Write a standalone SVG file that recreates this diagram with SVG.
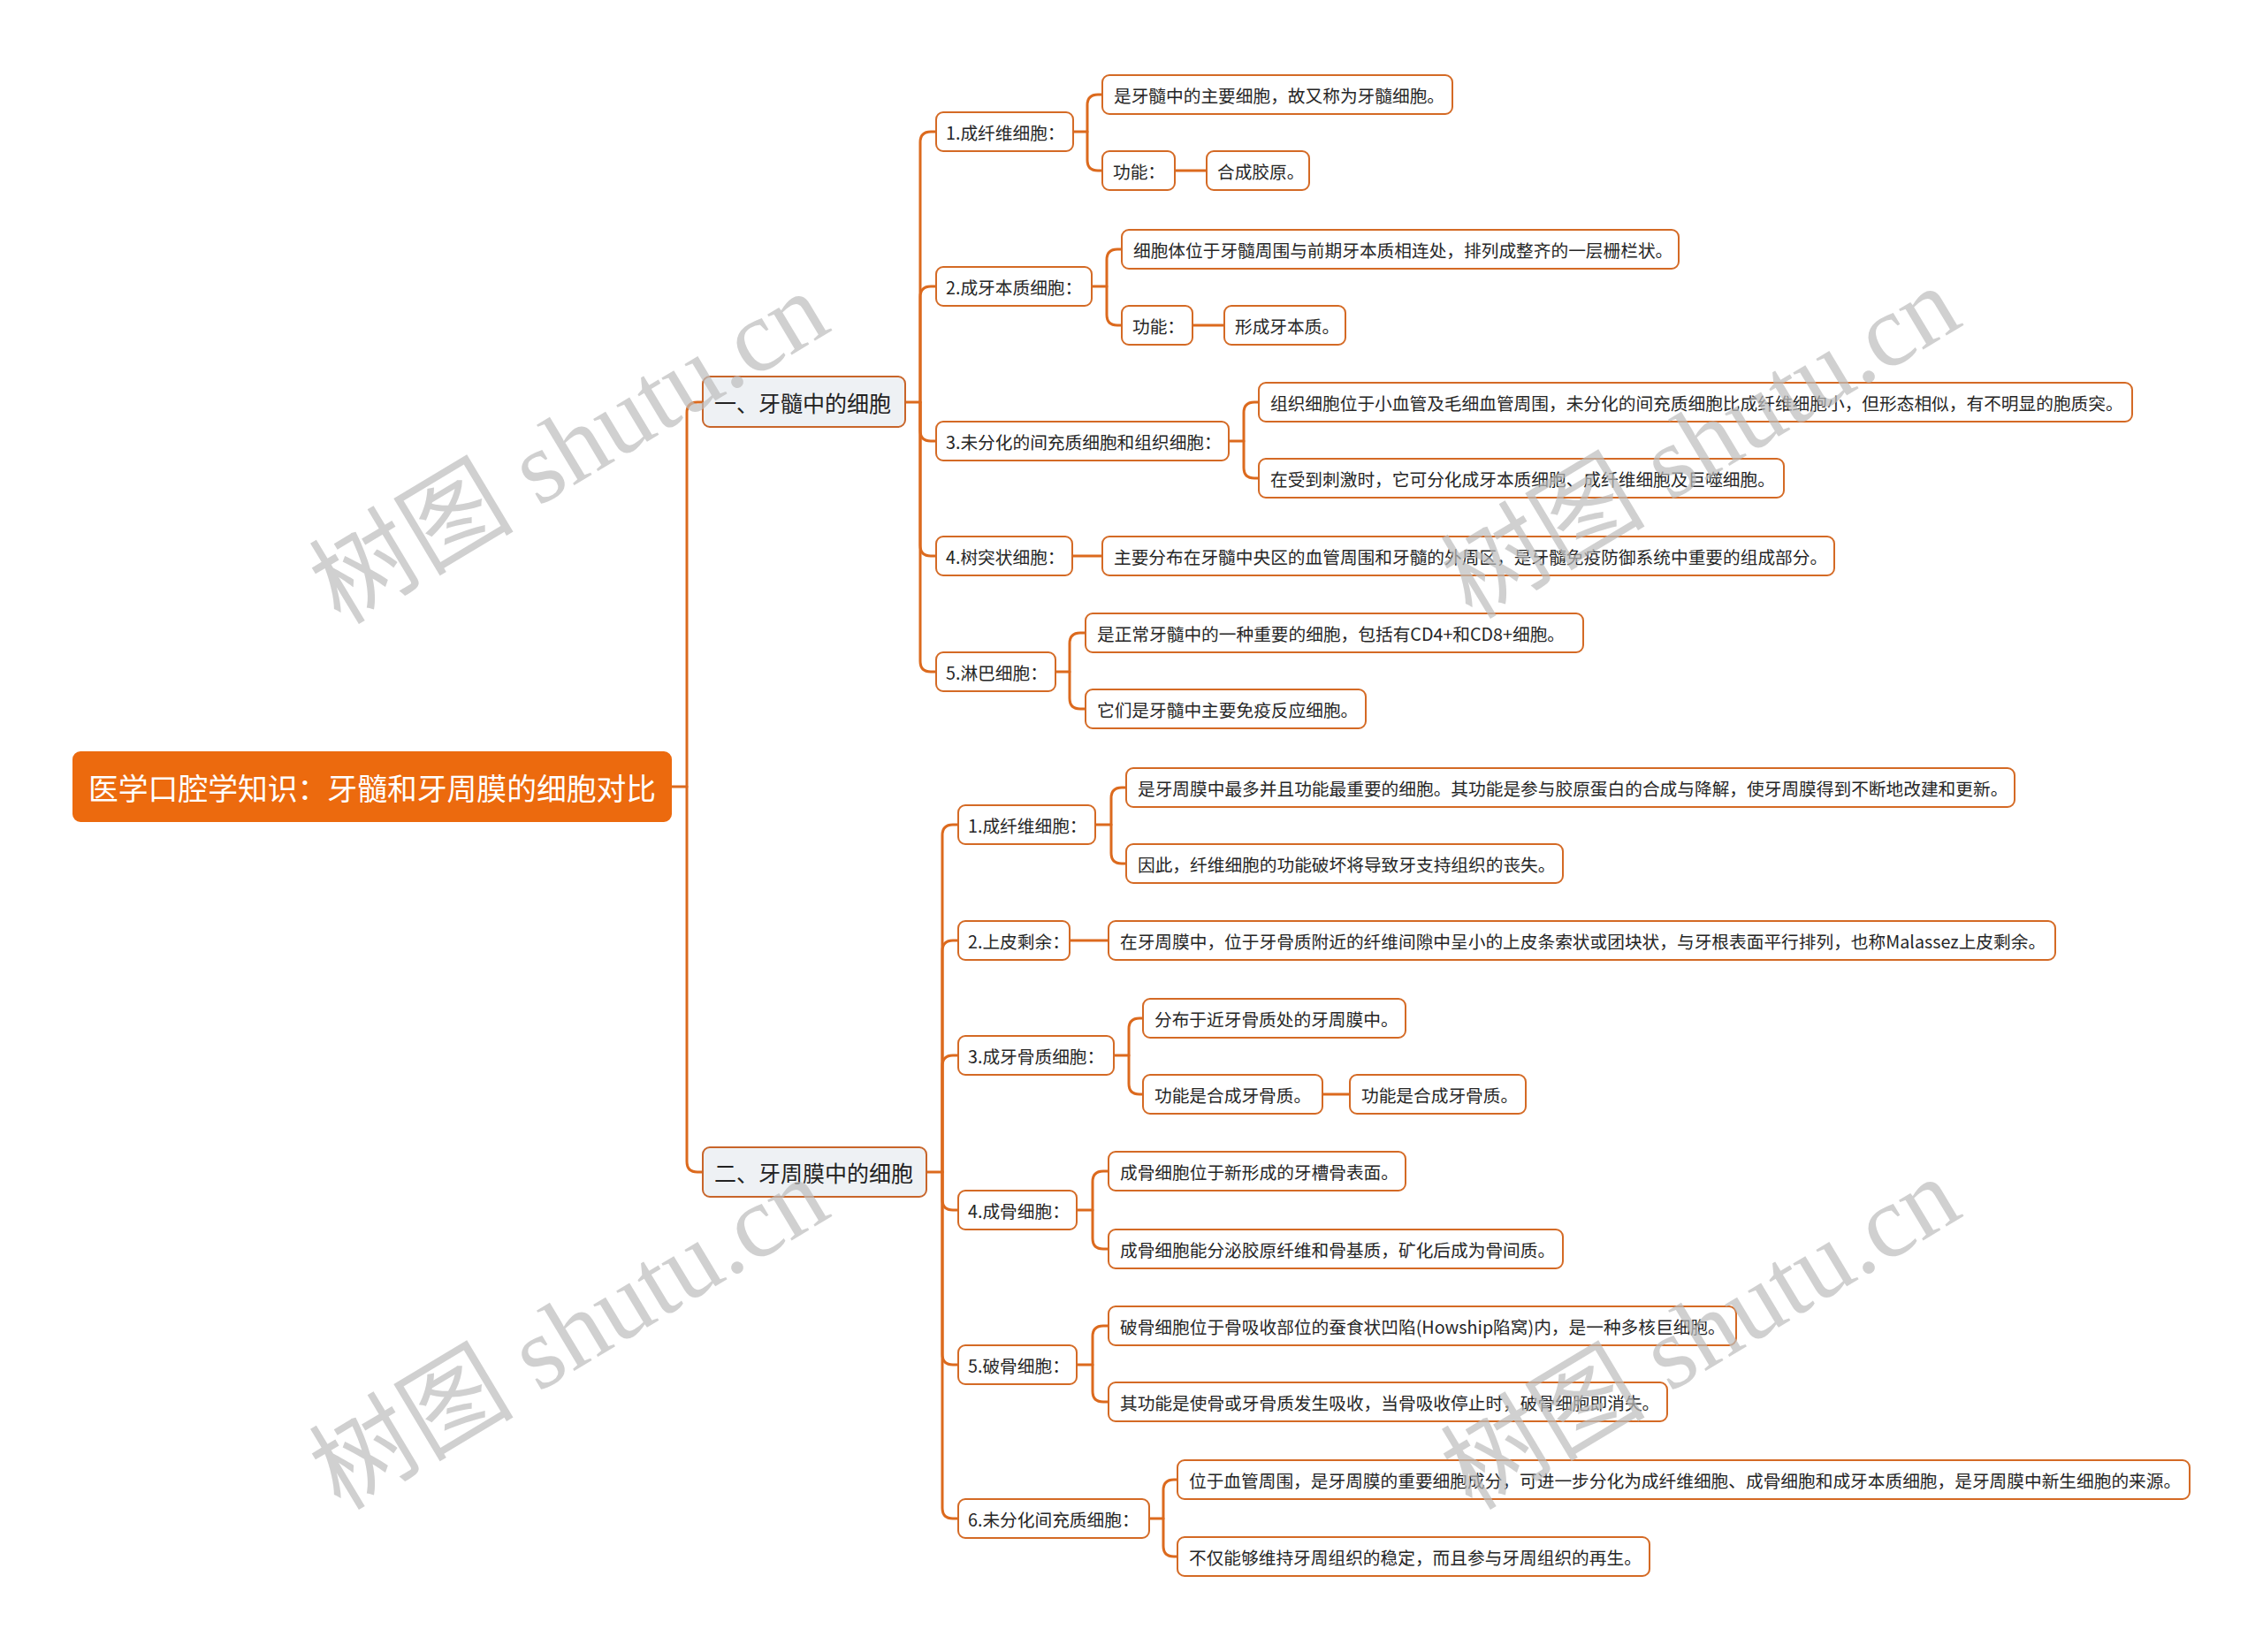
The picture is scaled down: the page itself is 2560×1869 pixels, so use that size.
<svg xmlns="http://www.w3.org/2000/svg" width="2560" height="1869" viewBox="0 0 2560 1869">
<style>
.c{fill:none;stroke:#DC6A1E;stroke-width:3;stroke-linecap:round;stroke-linejoin:round}
.n rect{fill:#FFFFFF;stroke:#D46A25;stroke-width:2}
.n text{font-family:"Noto Sans CJK SC","Microsoft YaHei",sans-serif;font-size:19.7px;fill:#262626;dominant-baseline:central}
.l1 rect{fill:#EEF1F4;stroke:#C8652A;stroke-width:2}
.l1 text{font-family:"Noto Sans CJK SC",sans-serif;font-size:25px;fill:#222;dominant-baseline:central}
.root rect{fill:#EC6A0E;stroke:#EC6A0E;stroke-width:2}
.root text{font-family:"Noto Sans CJK SC",sans-serif;font-size:33.8px;fill:#FFFFFF;dominant-baseline:central}
.wm{font-family:"Liberation Serif","Noto Sans CJK SC",serif;font-size:116px;fill:#BDBDBD;opacity:0.7}
</style>
<rect x="0" y="0" width="2560" height="1869" fill="#FFFFFF"/>
<g id="connectors">
<path class="c" d="M759,890 H777 V467 Q777,455 789,455 H795"/>
<path class="c" d="M777,890 V1314 Q777,1326 789,1326 H795"/>
<path class="c" d="M1024,455 H1041 V161 Q1041,149 1053,149 H1059"/>
<path class="c" d="M1041,455 V336 Q1041,324 1053,324 H1059"/>
<path class="c" d="M1041,455 V487 Q1041,499 1053,499 H1059"/>
<path class="c" d="M1041,455 V617 Q1041,629 1053,629 H1059"/>
<path class="c" d="M1041,455 V748 Q1041,760 1053,760 H1059"/>
<path class="c" d="M1214,149 H1230 V119 Q1230,107 1242,107 H1247"/>
<path class="c" d="M1230,149 V181 Q1230,193 1242,193 H1247"/>
<path class="c" d="M1329,193 H1365"/>
<path class="c" d="M1235,324 H1252 V294 Q1252,282 1264,282 H1269"/>
<path class="c" d="M1252,324 V356 Q1252,368 1264,368 H1269"/>
<path class="c" d="M1349,368 H1385"/>
<path class="c" d="M1390,499 H1407 V467 Q1407,455 1419,455 H1424"/>
<path class="c" d="M1407,499 V529 Q1407,541 1419,541 H1424"/>
<path class="c" d="M1213,629 H1247"/>
<path class="c" d="M1194,760 H1210 V728 Q1210,716 1222,716 H1228"/>
<path class="c" d="M1210,760 V790 Q1210,802 1222,802 H1228"/>
<path class="c" d="M1048,1326 H1066 V945 Q1066,933 1078,933 H1084"/>
<path class="c" d="M1066,1326 V1076 Q1066,1064 1078,1064 H1084"/>
<path class="c" d="M1066,1326 V1206 Q1066,1194 1078,1194 H1084"/>
<path class="c" d="M1066,1326 V1357 Q1066,1369 1078,1369 H1084"/>
<path class="c" d="M1066,1326 V1532 Q1066,1544 1078,1544 H1084"/>
<path class="c" d="M1066,1326 V1706 Q1066,1718 1078,1718 H1084"/>
<path class="c" d="M1239,933 H1257 V903 Q1257,891 1269,891 H1274"/>
<path class="c" d="M1257,933 V965 Q1257,977 1269,977 H1274"/>
<path class="c" d="M1210,1064 H1254"/>
<path class="c" d="M1260,1194 H1277 V1164 Q1277,1152 1289,1152 H1293"/>
<path class="c" d="M1277,1194 V1226 Q1277,1238 1289,1238 H1293"/>
<path class="c" d="M1496,1238 H1527"/>
<path class="c" d="M1218,1369 H1236 V1337 Q1236,1325 1248,1325 H1254"/>
<path class="c" d="M1236,1369 V1401 Q1236,1413 1248,1413 H1254"/>
<path class="c" d="M1218,1544 H1236 V1512 Q1236,1500 1248,1500 H1254"/>
<path class="c" d="M1236,1544 V1574 Q1236,1586 1248,1586 H1254"/>
<path class="c" d="M1300,1718 H1316 V1686 Q1316,1674 1328,1674 H1332"/>
<path class="c" d="M1316,1718 V1749 Q1316,1761 1328,1761 H1332"/>
</g>
<g id="root" class="root"><rect x="83" y="851" width="676" height="78" rx="8"/><text x="100" y="890">医学口腔学知识：牙髓和牙周膜的细胞对比</text></g>
<g id="n1" class="l1"><rect x="795" y="426" width="229" height="57" rx="8"/><text x="808" y="455">一、牙髓中的细胞</text></g>
<g id="n2" class="l1"><rect x="795" y="1298" width="253" height="56" rx="8"/><text x="808" y="1326">二、牙周膜中的细胞</text></g>
<g id="a1" class="n"><rect x="1059" y="127" width="155" height="44" rx="8"/><text x="1070" y="149">1.成纤维细胞：</text></g>
<g id="a2" class="n"><rect x="1059" y="302" width="176" height="44" rx="8"/><text x="1070" y="324">2.成牙本质细胞：</text></g>
<g id="a3" class="n"><rect x="1059" y="477" width="331" height="44" rx="8"/><text x="1070" y="499">3.未分化的间充质细胞和组织细胞：</text></g>
<g id="a4" class="n"><rect x="1059" y="607" width="154" height="44" rx="8"/><text x="1070" y="629">4.树突状细胞：</text></g>
<g id="a5" class="n"><rect x="1059" y="738" width="135" height="44" rx="8"/><text x="1070" y="760">5.淋巴细胞：</text></g>
<g id="b1a" class="n"><rect x="1247" y="85" width="396" height="44" rx="8"/><text x="1260" y="107">是牙髓中的主要细胞，故又称为牙髓细胞。</text></g>
<g id="b1b" class="n"><rect x="1247" y="171" width="82" height="44" rx="8"/><text x="1259" y="193">功能：</text></g>
<g id="b1c" class="n"><rect x="1365" y="171" width="116" height="44" rx="8"/><text x="1377" y="193">合成胶原。</text></g>
<g id="b2a" class="n"><rect x="1269" y="260" width="630" height="44" rx="8"/><text x="1282" y="282">细胞体位于牙髓周围与前期牙本质相连处，排列成整齐的一层栅栏状。</text></g>
<g id="b2b" class="n"><rect x="1269" y="346" width="80" height="44" rx="8"/><text x="1281" y="368">功能：</text></g>
<g id="b2c" class="n"><rect x="1385" y="346" width="137" height="44" rx="8"/><text x="1397" y="368">形成牙本质。</text></g>
<g id="b3a" class="n"><rect x="1424" y="433" width="988" height="44" rx="8"/><text x="1437" y="455">组织细胞位于小血管及毛细血管周围，未分化的间充质细胞比成纤维细胞小，但形态相似，有不明显的胞质突。</text></g>
<g id="b3b" class="n"><rect x="1424" y="519" width="594" height="44" rx="8"/><text x="1437" y="541">在受到刺激时，它可分化成牙本质细胞、成纤维细胞及巨噬细胞。</text></g>
<g id="b4a" class="n"><rect x="1247" y="607" width="828" height="44" rx="8"/><text x="1260" y="629">主要分布在牙髓中央区的血管周围和牙髓的外周区，是牙髓免疫防御系统中重要的组成部分。</text></g>
<g id="b5a" class="n"><rect x="1228" y="694" width="563" height="44" rx="8"/><text x="1241" y="716">是正常牙髓中的一种重要的细胞，包括有CD4+和CD8+细胞。</text></g>
<g id="b5b" class="n"><rect x="1228" y="780" width="317" height="44" rx="8"/><text x="1241" y="802">它们是牙髓中主要免疫反应细胞。</text></g>
<g id="c1" class="n"><rect x="1084" y="911" width="155" height="44" rx="8"/><text x="1095" y="933">1.成纤维细胞：</text></g>
<g id="c2" class="n"><rect x="1084" y="1042" width="126" height="44" rx="8"/><text x="1095" y="1064">2.上皮剩余：</text></g>
<g id="c3" class="n"><rect x="1084" y="1172" width="176" height="44" rx="8"/><text x="1095" y="1194">3.成牙骨质细胞：</text></g>
<g id="c4" class="n"><rect x="1084" y="1347" width="134" height="44" rx="8"/><text x="1095" y="1369">4.成骨细胞：</text></g>
<g id="c5" class="n"><rect x="1084" y="1522" width="134" height="44" rx="8"/><text x="1095" y="1544">5.破骨细胞：</text></g>
<g id="c6" class="n"><rect x="1084" y="1696" width="216" height="44" rx="8"/><text x="1095" y="1718">6.未分化间充质细胞：</text></g>
<g id="d1a" class="n"><rect x="1274" y="869" width="1005" height="44" rx="8"/><text x="1287" y="891">是牙周膜中最多并且功能最重要的细胞。其功能是参与胶原蛋白的合成与降解，使牙周膜得到不断地改建和更新。</text></g>
<g id="d1b" class="n"><rect x="1274" y="955" width="494" height="44" rx="8"/><text x="1287" y="977">因此，纤维细胞的功能破坏将导致牙支持组织的丧失。</text></g>
<g id="d2a" class="n"><rect x="1254" y="1042" width="1071" height="44" rx="8"/><text x="1267" y="1064">在牙周膜中，位于牙骨质附近的纤维间隙中呈小的上皮条索状或团块状，与牙根表面平行排列，也称Malassez上皮剩余。</text></g>
<g id="d3a" class="n"><rect x="1293" y="1130" width="297" height="44" rx="8"/><text x="1306" y="1152">分布于近牙骨质处的牙周膜中。</text></g>
<g id="d3b" class="n"><rect x="1293" y="1216" width="203" height="44" rx="8"/><text x="1306" y="1238">功能是合成牙骨质。</text></g>
<g id="d3c" class="n"><rect x="1527" y="1216" width="199" height="44" rx="8"/><text x="1540" y="1238">功能是合成牙骨质。</text></g>
<g id="d4a" class="n"><rect x="1254" y="1303" width="336" height="44" rx="8"/><text x="1267" y="1325">成骨细胞位于新形成的牙槽骨表面。</text></g>
<g id="d4b" class="n"><rect x="1254" y="1391" width="514" height="44" rx="8"/><text x="1267" y="1413">成骨细胞能分泌胶原纤维和骨基质，矿化后成为骨间质。</text></g>
<g id="d5a" class="n"><rect x="1254" y="1478" width="710" height="44" rx="8"/><text x="1267" y="1500">破骨细胞位于骨吸收部位的蚕食状凹陷(Howship陷窝)内，是一种多核巨细胞。</text></g>
<g id="d5b" class="n"><rect x="1254" y="1564" width="632" height="44" rx="8"/><text x="1267" y="1586">其功能是使骨或牙骨质发生吸收，当骨吸收停止时，破骨细胞即消失。</text></g>
<g id="d6a" class="n"><rect x="1332" y="1652" width="1145" height="44" rx="8"/><text x="1345" y="1674">位于血管周围，是牙周膜的重要细胞成分，可进一步分化为成纤维细胞、成骨细胞和成牙本质细胞，是牙周膜中新生细胞的来源。</text></g>
<g id="d6b" class="n"><rect x="1332" y="1739" width="534" height="44" rx="8"/><text x="1345" y="1761">不仅能够维持牙周组织的稳定，而且参与牙周组织的再生。</text></g>
<g id="watermarks">
<text class="wm" transform="translate(385,708) rotate(-31)">树图 shutu.cn</text>
<text class="wm" transform="translate(1665,702) rotate(-31)">树图 shutu.cn</text>
<text class="wm" transform="translate(385,1710) rotate(-31)">树图 shutu.cn</text>
<text class="wm" transform="translate(1665,1710) rotate(-31)">树图 shutu.cn</text>
</g>
</svg>
